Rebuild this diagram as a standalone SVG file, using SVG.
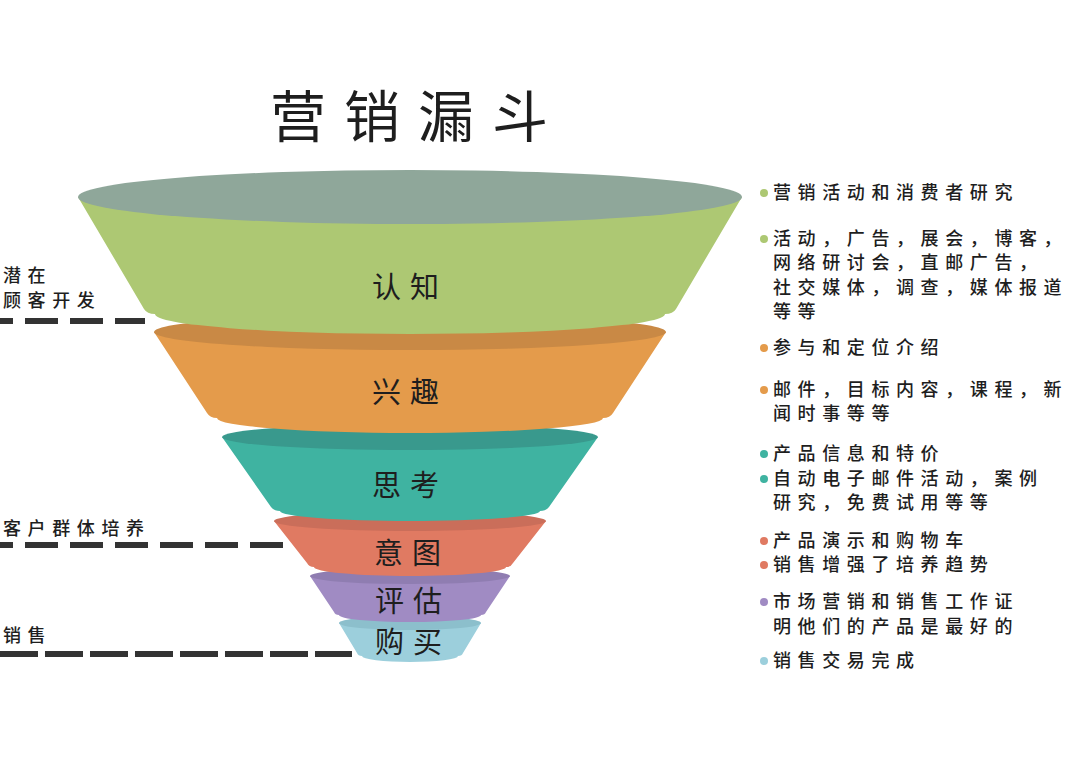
<svg xmlns="http://www.w3.org/2000/svg" width="1080" height="764" viewBox="0 0 1080 764">
<style>
text{font-family:"Noto Sans CJK SC","Noto Sans",sans-serif;fill:#1e1e1e}
.title{font-size:56px;letter-spacing:18px}
.lbl{font-size:29px;letter-spacing:9px}
.side{font-size:18px;letter-spacing:6.6px;font-weight:500}
.dash{stroke:#333;stroke-width:6;fill:none}
</style>
<rect width="1080" height="764" fill="#ffffff"/>
<text class="title" x="270" y="137">营销漏斗</text>

<g id="stage-buy">
<path d="M339,623 L481,623 L463,653 Q462,656 458,656 A48 6 0 0 1 362,656 Q358,656 357,653 Z" fill="#9ccfdc"/>
<ellipse cx="410" cy="623" rx="71" ry="7" fill="#8cbfcc"/>
<text class="lbl" x="375" y="653">购买</text>
</g>
<g id="stage-evaluate">
<path d="M310,576 L510,576 L486,612 Q485,615 481,615 A71 7 0 0 1 339,615 Q335,615 334,612 Z" fill="#a08bc3"/>
<ellipse cx="410" cy="576" rx="100" ry="8" fill="#8f7db1"/>
<text class="lbl" x="375" y="612">评估</text>
</g>
<g id="stage-intent">
<path d="M274,521 L546,521 L513,563 Q511,567 506,567 A96 9 0 0 1 314,567 Q309,567 307,563 Z" fill="#e07a62"/>
<ellipse cx="410" cy="521" rx="136" ry="10" fill="#ca6e5a"/>
<text class="lbl" x="374" y="564">意图</text>
</g>
<g id="stage-consider">
<path d="M222,437 L598,437 L549,507 Q546,511 540,511 A130 10 0 0 1 280,511 Q274,511 271,507 Z" fill="#3fb3a1"/>
<ellipse cx="410" cy="437" rx="188" ry="13" fill="#39998d"/>
<text class="lbl" x="372" y="496">思考</text>
</g>
<g id="stage-interest">
<path d="M154,332 L666,332 L613,413 Q610,418 603,418 A193 15 0 0 1 217,418 Q210,418 207,413 Z" fill="#e49b4b"/>
<ellipse cx="410" cy="332" rx="256" ry="18" fill="#c98945"/>
<text class="lbl" x="372" y="403">兴趣</text>
</g>
<g id="stage-awareness">
<path d="M78,197 L742,197 L676,309 Q673,314 665,314 A255 20 0 0 1 155,314 Q147,314 144,309 Z" fill="#adc873"/>
<ellipse cx="410" cy="197" rx="332" ry="27" fill="#8fa79a"/>
<text class="lbl" x="372" y="298">认知</text>
</g>

<g id="connectors">
<line class="dash" x1="0" y1="321" x2="145" y2="321" stroke-dasharray="33 12" stroke-dashoffset="20"/>
<line class="dash" x1="0" y1="545" x2="283" y2="545" stroke-dasharray="33 12" stroke-dashoffset="20"/>
<line class="dash" x1="0" y1="654" x2="352" y2="654" stroke-dasharray="38 7"/>
</g>

<g id="left-labels">
<text class="side" x="3" y="282">潜在</text>
<text class="side" x="3" y="307">顾客开发</text>
<text class="side" x="3" y="535">客户群体培养</text>
<text class="side" x="3" y="642">销售</text>
</g>

<g id="notes">
<circle cx="764" cy="193" r="4" fill="#adc873"/>
<text class="side" x="773" y="199">营销活动和消费者研究</text>
<circle cx="764" cy="239" r="4" fill="#adc873"/>
<text class="side" x="773" y="245">活动，广告，展会，博客，</text>
<text class="side" x="773" y="269">网络研讨会，直邮广告，</text>
<text class="side" x="773" y="294">社交媒体，调查，媒体报道</text>
<text class="side" x="773" y="318">等等</text>
<circle cx="764" cy="348" r="4" fill="#e49b4b"/>
<text class="side" x="773" y="354">参与和定位介绍</text>
<circle cx="764" cy="390" r="4" fill="#e49b4b"/>
<text class="side" x="773" y="396">邮件，目标内容，课程，新</text>
<text class="side" x="773" y="420">闻时事等等</text>
<circle cx="764" cy="454" r="4" fill="#3fb3a1"/>
<text class="side" x="773" y="460">产品信息和特价</text>
<circle cx="764" cy="479" r="4" fill="#3fb3a1"/>
<text class="side" x="773" y="485">自动电子邮件活动，案例</text>
<text class="side" x="773" y="509">研究，免费试用等等</text>
<circle cx="764" cy="541" r="4" fill="#e07a62"/>
<text class="side" x="773" y="547">产品演示和购物车</text>
<circle cx="764" cy="565" r="4" fill="#e07a62"/>
<text class="side" x="773" y="571">销售增强了培养趋势</text>
<circle cx="764" cy="602" r="4" fill="#a08bc3"/>
<text class="side" x="773" y="608">市场营销和销售工作证</text>
<text class="side" x="773" y="633">明他们的产品是最好的</text>
<circle cx="764" cy="661" r="4" fill="#9ccfdc"/>
<text class="side" x="773" y="667">销售交易完成</text>
</g>
</svg>
